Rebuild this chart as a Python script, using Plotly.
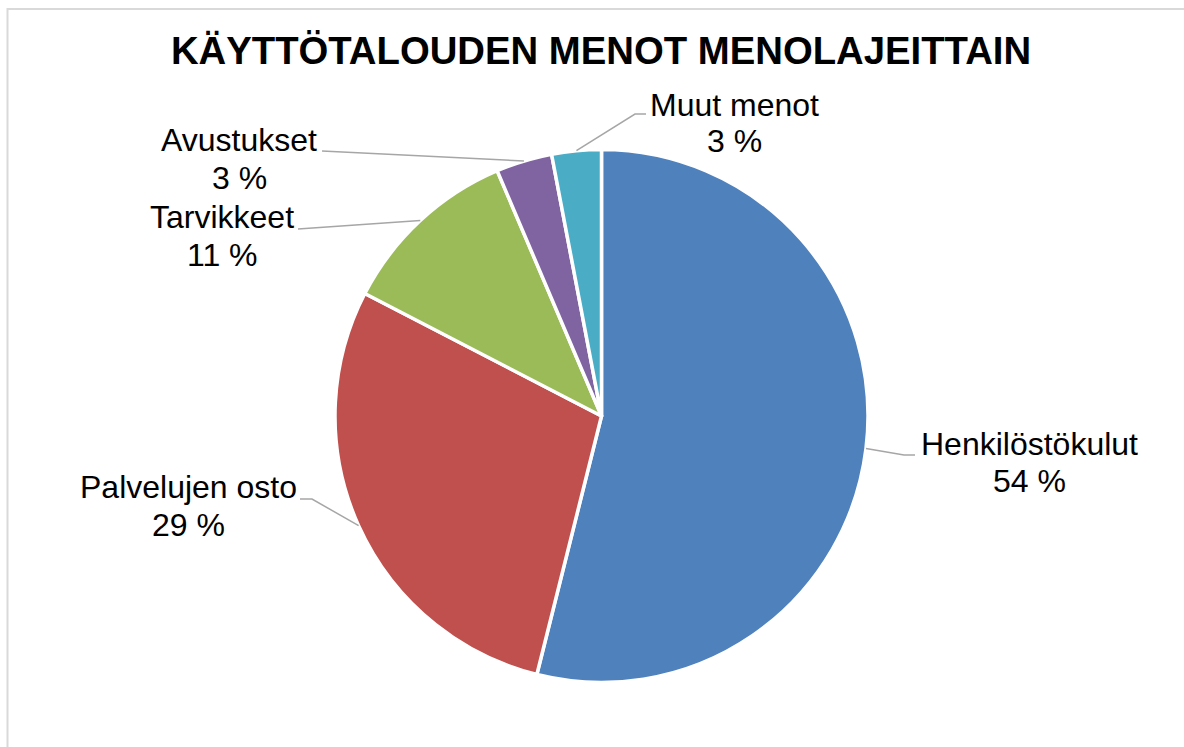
import math
import plotly.graph_objects as go

# ---- data ----
categories = ["Henkilöstökulut", "Palvelujen osto", "Tarvikkeet", "Avustukset", "Muut menot"]
values = [53.9, 28.7, 11.0, 3.4, 3.0]
colors = ["#4F81BD", "#C0504D", "#9BBB59", "#8064A2", "#4BACC6"]
title_text = "KÄYTTÖTALOUDEN MENOT MENOLAJEITTAIN"

# ---- layout constants (pixels) ----
W, H = 1184, 747
CX, CY, R = 601.5, 416.0, 266.5
FONT = "Liberation Sans, Arial, sans-serif"
LABEL_SIZE = 32
# label centers (name line, percent line) and leader path points (elbow..end)
label_pos = [
    (1029, 443.5, 480.5),
    (188, 487, 525),
    (222, 217, 255),
    (239, 140, 178),
    (735, 105, 141),
]
leader_pts = [
    [(904, 455), (915, 455)],
    [(312, 499), (300, 499)],
    [(298, 229)],
    [(322, 151)],
    [(635, 114), (646, 114)],
]


def px(x):
    return x / W


def py(y):
    return 1 - y / H


fig = go.Figure()
fig.add_trace(go.Pie(
    labels=categories,
    values=values,
    sort=False,
    direction="clockwise",
    rotation=0,
    textinfo="none",
    hoverinfo="skip",
    marker=dict(colors=colors, line=dict(color="white", width=3.5)),
    domain=dict(x=[px(CX - R), px(CX + R)], y=[py(CY + R), py(CY - R)]),
    showlegend=False,
))

total = sum(values)
annotations = []
shapes = []
cum = 0.0
for name, v, (lx, ly1, ly2), pts in zip(categories, values, label_pos, leader_pts):
    mid = (cum + v / 2) / total * 2 * math.pi
    cum += v
    sx = CX + R * math.sin(mid)
    sy = CY - R * math.cos(mid)
    path_pts = [(sx, sy)] + pts
    path = "M " + " L ".join(f"{px(x)},{py(y)}" for x, y in path_pts)
    shapes.append(dict(type="path", xref="paper", yref="paper", path=path,
                       line=dict(color="#A6A6A6", width=1.5)))
    pct = f"{round(v / total * 100):d} %"
    annotations.append(dict(x=px(lx), y=py(ly1), xref="paper", yref="paper",
                            text=name, showarrow=False, xanchor="center", yanchor="middle",
                            font=dict(family=FONT, size=LABEL_SIZE, color="#000000")))
    annotations.append(dict(x=px(lx), y=py(ly2), xref="paper", yref="paper",
                            text=pct, showarrow=False, xanchor="center", yanchor="middle",
                            font=dict(family=FONT, size=LABEL_SIZE, color="#000000")))

# chart area border
shapes.append(dict(type="rect", xref="paper", yref="paper",
                   x0=px(7.5), x1=px(W + 20), y0=py(H + 20), y1=py(9),
                   line=dict(color="#D9D9D9", width=2), fillcolor="rgba(0,0,0,0)", layer="below"))

fig.update_layout(
    width=W, height=H,
    margin=dict(l=0, r=0, t=0, b=0),
    paper_bgcolor="white", plot_bgcolor="white",
    title=dict(text=f"<b>{title_text}</b>", x=px(601), y=py(51), xanchor="center", yanchor="middle",
               xref="paper", yref="paper",
               font=dict(family=FONT, size=38.3, color="#000000")),
    annotations=annotations,
    shapes=shapes,
)

fig.write_html("out.html", config={"displayModeBar": False},
               post_script="document.body.style.margin='0';document.body.style.overflow='hidden';")
